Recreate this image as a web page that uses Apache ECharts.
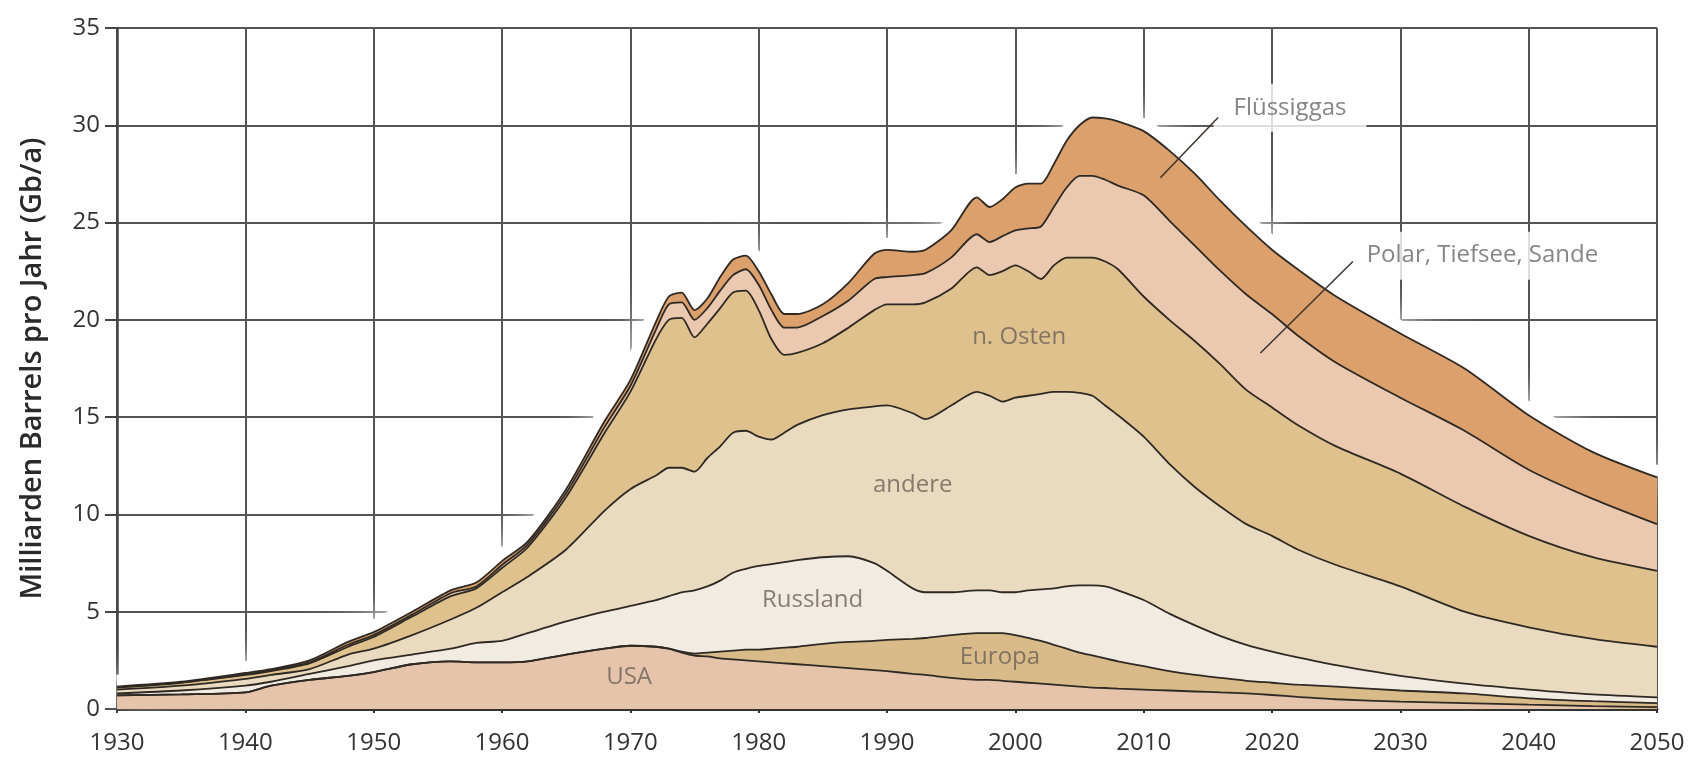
<!DOCTYPE html>
<html>
<head>
<meta charset="utf-8">
<script src="https://cdn.jsdelivr.net/npm/echarts@6/dist/echarts.min.js"></script>
<style>
  html, body { margin: 0; padding: 0; background: #fff; }
  #chart { width: 1695px; height: 759px; }
</style>
</head>
<body>
<div id="chart"></div>
<script>
// years
var years = [1930,1935,1940,1942,1945,1948,1950,1953,1956,1958,1960,1962,1965,1968,1970,
  1972,1973,1974,1975,1976,1977,1978,1979,1980,1981,1982,1983,1985,1987,1989,
  1990,1992,1993,1995,1997,1998,1999,2000,2001,2002,2003,2004,2005,2006,2007,
  2008,2010,2012,2014,2016,2018,2020,2022,2025,2030,2035,2040,2045,2050];

// layer thickness per year, Gb/a (bottom to top)
var usa = [0.7,0.75,0.85,1.2,1.5,1.7,1.9,2.3,2.45,2.4,2.4,2.45,2.8,3.1,3.25,
  3.2,3.1,2.9,2.75,2.7,2.6,2.55,2.5,2.45,2.4,2.35,2.3,2.2,2.1,2.0,
  1.95,1.8,1.75,1.6,1.5,1.5,1.45,1.4,1.35,1.3,1.25,1.2,1.15,1.1,1.08,
  1.05,1.0,0.95,0.9,0.85,0.8,0.72,0.62,0.5,0.38,0.3,0.22,0.15,0.1];
var europa = [0,0,0,0,0,0,0,0,0,0,0,0,0,0,0,
  0,0,0.05,0.1,0.2,0.35,0.45,0.55,0.6,0.7,0.8,0.9,1.15,1.35,1.5,
  1.6,1.8,1.9,2.2,2.4,2.4,2.45,2.4,2.3,2.2,2.05,1.9,1.75,1.65,1.52,
  1.4,1.2,1.0,0.85,0.75,0.65,0.63,0.63,0.65,0.57,0.5,0.33,0.25,0.2];
var russland = [0.1,0.2,0.35,0.2,0.3,0.5,0.6,0.5,0.65,1.0,1.1,1.45,1.7,1.9,2.05,
  2.4,2.7,3.05,3.25,3.4,3.65,4.0,4.15,4.3,4.35,4.4,4.45,4.45,4.4,4.0,
  3.55,2.6,2.35,2.2,2.2,2.2,2.1,2.2,2.45,2.65,2.9,3.2,3.45,3.6,3.7,
  3.65,3.4,2.95,2.55,2.15,1.85,1.6,1.4,1.1,0.75,0.5,0.45,0.35,0.3];
var andere = [0.2,0.25,0.35,0.35,0.25,0.6,0.6,1.0,1.5,1.8,2.5,2.9,3.7,5.2,6.0,
  6.4,6.6,6.4,6.1,6.6,6.9,7.2,7.1,6.65,6.4,6.65,6.95,7.3,7.55,8.05,
  8.5,9.0,8.9,9.6,10.2,10.0,9.8,10.0,10.0,10.05,10.1,10.0,9.9,9.75,9.3,
  9.0,8.4,7.7,7.1,6.65,6.2,5.95,5.55,5.15,4.6,3.7,3.2,2.85,2.6];
var nOsten = [0.1,0.15,0.2,0.2,0.3,0.4,0.6,0.95,1.2,1.0,1.25,1.5,2.7,4.0,5.0,
  7.0,7.6,7.7,6.9,6.9,7.1,7.2,7.2,6.5,5.15,4.0,3.7,3.7,4.2,4.95,
  5.2,5.6,6.0,6.0,6.4,6.2,6.7,6.8,6.4,5.9,6.5,6.9,6.95,7.1,7.4,
  7.5,7.2,7.4,7.5,7.3,6.9,6.6,6.4,6.1,5.8,5.4,4.7,4.2,3.9];
var polar = [0.02,0.02,0.03,0.05,0.05,0.1,0.1,0.1,0.15,0.1,0.15,0.15,0.2,0.3,0.3,
  0.5,0.8,0.8,0.9,0.8,0.9,0.9,1.1,1.3,1.5,1.4,1.3,1.4,1.4,1.6,
  1.4,1.5,1.5,1.6,1.7,1.7,1.8,1.8,2.2,2.7,3.0,3.6,4.2,4.2,4.2,
  4.3,5.2,5.1,4.9,4.8,4.9,4.8,4.6,4.3,3.9,3.9,3.4,3.0,2.4];
var fluessiggas = [0.03,0.03,0.07,0.05,0.1,0.15,0.15,0.15,0.15,0.2,0.2,0.15,0.2,0.3,0.3,
  0.4,0.4,0.5,0.5,0.5,0.7,0.8,0.7,0.7,0.8,0.7,0.7,0.6,0.9,1.3,
  1.4,1.2,1.2,1.4,1.9,1.8,1.9,2.2,2.3,2.2,2.2,2.4,2.6,3.0,3.15,
  3.3,3.3,3.6,3.7,3.6,3.5,3.3,3.4,3.4,3.3,3.2,2.8,2.4,2.4];

var layerNames = ['USA','Europa','Russland','andere','n. Osten','Polar, Tiefsee, Sande','Flüssiggas'];
var layerValues = [usa, europa, russland, andere, nOsten, polar, fluessiggas];
var layerColors = ['#e5c4ab','#d8bb88','#f1ebe1','#e9dac0','#dfc18e','#eac9b0','#dca06c'];

// text labels on the chart: [year, value]
var labelNames = ['USA','Europa','Russland','andere','n. Osten','Flüssiggas','Polar, Tiefsee, Sande'];
var labelPos = [[1969.9,1.65],[1998.8,2.65],[1984.2,5.6],[1992.0,11.5],[2000.3,19.1],[2021.4,30.9],[2036.4,23.3]];
// leader lines for the two outer labels
var leaders = [[[2015.8,30.4],[2011.3,27.3]], [[2026.3,23.0],[2019.1,18.3]]];

var font = "'Open Sans', 'DejaVu Sans', sans-serif";

// running sums: upper edge of every layer
var edges = [];
var run = years.map(function () { return 0; });
for (var j = 0; j < layerValues.length; j++) {
  run = run.map(function (v, i) { return Math.round((v + layerValues[j][i]) * 100) / 100; });
  edges.push(run);
}

function pairs(vals) {
  var out = [];
  for (var i = 0; i < years.length; i++) out.push([years[i], vals[i]]);
  return out;
}

var series = [];
// soft white halo round the outline, hides the grid close to the curve
series.push({
  name: 'glow',
  type: 'line',
  data: pairs(edges[edges.length - 1]),
  smooth: 0.25,
  symbol: 'none',
  silent: true,
  z: 1,
  lineStyle: { color: '#ffffff', width: 24, shadowBlur: 30, shadowColor: '#ffffff' }
});
// draw the tallest edge first, each lower layer painted over it
for (var k = layerNames.length - 1; k >= 0; k--) {
  series.push({
    name: layerNames[k],
    type: 'line',
    data: pairs(edges[k]),
    smooth: 0.25,
    symbol: 'none',
    z: 2,
    lineStyle: { color: '#2f2924', width: 1.8 },
    areaStyle: { color: layerColors[k], opacity: 1 }
  });
}

var labelData = [];
for (var m = 0; m < labelNames.length; m++) {
  var item = { name: labelNames[m], value: labelPos[m] };
  if (m >= 5) {
    item.label = { backgroundColor: '#ffffff', padding: [12, 20], color: '#666' };
  }
  labelData.push(item);
}
series.push({
  type: 'scatter',
  data: labelData,
  symbolSize: 0,
  silent: true,
  z: 5,
  label: {
    show: true,
    position: 'inside',
    formatter: '{b}',
    fontFamily: font,
    fontSize: 24,
    color: '#6d6258'
  }
});
series.push({
  type: 'lines',
  coordinateSystem: 'cartesian2d',
  data: leaders.map(function (c) { return { coords: c }; }),
  silent: true,
  z: 6,
  lineStyle: { color: '#3b342e', width: 1.5, opacity: 1 }
});

var chart = echarts.init(document.getElementById('chart'));
chart.setOption({
  animation: false,
  backgroundColor: '#ffffff',
  grid: { left: 117, right: 38, top: 28, bottom: 50 },
  xAxis: {
    type: 'value',
    min: 1930, max: 2050, interval: 10,
    axisLine: { lineStyle: { color: '#333', width: 3 } },
    axisTick: { show: true, length: 4, lineStyle: { color: '#333', width: 2 } },
    axisLabel: {
      margin: 22, fontFamily: font, fontSize: 24, color: '#333',
      formatter: function (v) { return String(v); }
    },
    splitLine: { show: true, lineStyle: { color: '#555', width: 2 } }
  },
  yAxis: {
    type: 'value',
    min: 0, max: 35, interval: 5,
    name: 'Milliarden Barrels pro Jahr (Gb/a)',
    nameLocation: 'middle',
    nameGap: 70,
    nameTextStyle: { fontFamily: font, fontSize: 29, fontWeight: 600, color: '#2a2a2a' },
    axisLine: { show: true, lineStyle: { color: '#444', width: 2.5 } },
    axisTick: { show: true, length: 12, lineStyle: { color: '#444', width: 2 } },
    axisLabel: { margin: 17, fontFamily: font, fontSize: 24, color: '#333' },
    splitLine: { show: true, lineStyle: { color: '#555', width: 2 } }
  },
  series: series
});
</script>
</body>
</html>
